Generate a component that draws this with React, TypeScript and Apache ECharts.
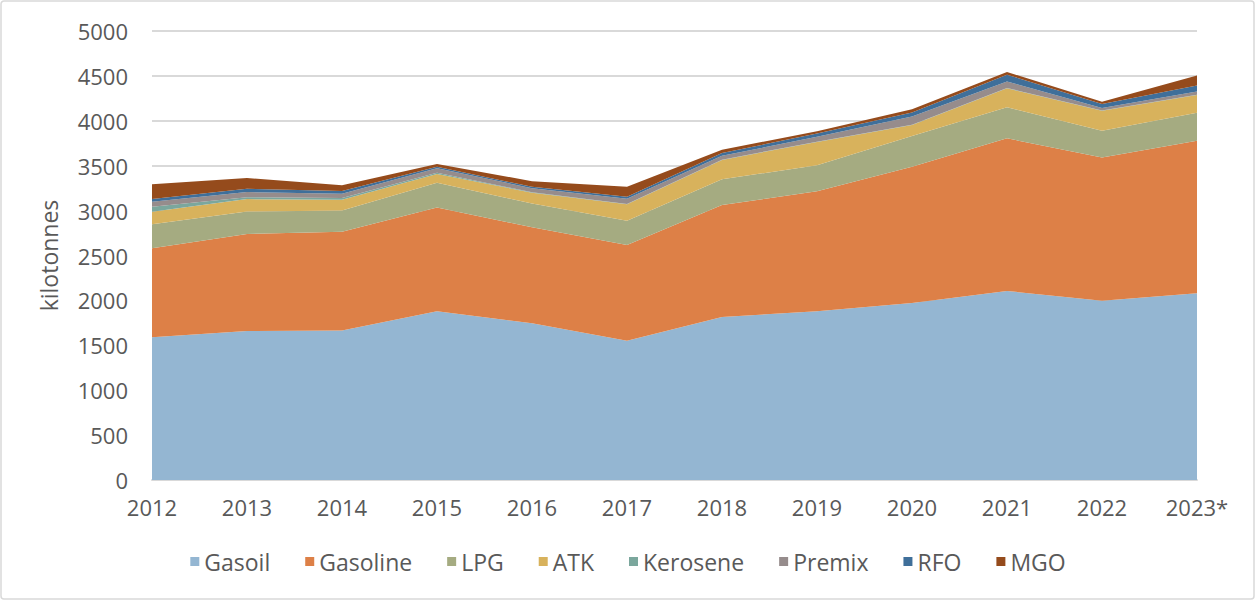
import React, { useEffect, useRef } from "react";
import * as echarts from "echarts";

const years = ["2012", "2013", "2014", "2015", "2016", "2017", "2018", "2019", "2020", "2021", "2022", "2023*"];
const gasoil = [1590, 1660, 1665, 1880, 1745, 1550, 1815, 1880, 1970, 2105, 1995, 2080];
const gasoline = [990, 1080, 1100, 1155, 1070, 1067, 1247, 1336, 1518, 1700, 1595, 1698];
const lpg = [267, 250, 235, 275, 265, 271, 286, 290, 342, 345, 300, 312];
const atk = [141, 138, 120, 97, 120, 182, 216, 259, 122, 212, 223, 197];
const kerosene = [56, 22, 19, 14, 5, 3, 3, 3, 3, 3, 3, 3];
const premix = [55, 56, 50, 50, 45, 60, 44, 53, 93, 74, 26, 37];
const rfo = [30, 37, 30, 18, 15, 22, 30, 38, 44, 74, 45, 67];
const mgo = [164, 119, 64, 30, 63, 111, 37, 25, 38, 30, 25, 111];

const seriesNames = ["Gasoil", "Gasoline", "LPG", "ATK", "Kerosene", "Premix", "RFO", "MGO"];
const seriesData = [gasoil, gasoline, lpg, atk, kerosene, premix, rfo, mgo];
const colors = ["#94b6d2", "#dd8047", "#a5ab81", "#d8b25c", "#7ba79d", "#968c8c", "#3f6f9a", "#954b1c"];

const FONT = "'Open Sans', 'DejaVu Sans', sans-serif";

export default function App() {
  const ref = useRef<HTMLDivElement>(null);
  useEffect(() => {
    if (!ref.current) return;
    const chart = echarts.init(ref.current, undefined, { renderer: "svg" });
    chart.setOption({
      animation: false,
      color: colors,
      textStyle: { fontFamily: FONT },
      grid: { left: 152, right: 59, top: 31, bottom: 122 },
      graphic: [
        {
          type: "rect",
          shape: { x: 1, y: 1, width: 1253, height: 598, r: 3 },
          style: { fill: "none", stroke: "#d9d9d9", lineWidth: 1.5 },
          silent: true,
        },
      ],
      legend: {
        bottom: 24,
        left: "center",
        icon: "rect",
        itemWidth: 9,
        itemHeight: 9,
        itemGap: 35,
        textStyle: { fontSize: 23, color: "#595959", fontFamily: FONT },
        data: seriesNames,
      },
      xAxis: {
        type: "category",
        data: years,
        boundaryGap: false,
        axisLine: { lineStyle: { color: "#d9d9d9", width: 2 } },
        axisTick: { show: false },
        axisLabel: { color: "#595959", fontSize: 22, margin: 16, fontFamily: FONT },
      },
      yAxis: {
        type: "value",
        min: 0,
        max: 5000,
        interval: 500,
        name: "kilotonnes",
        nameLocation: "middle",
        nameGap: 92,
        nameRotate: 90,
        nameTextStyle: { color: "#595959", fontSize: 23, fontFamily: FONT },
        axisLine: { show: false },
        axisTick: { show: false },
        axisLabel: {
          color: "#595959",
          fontSize: 22,
          margin: 24,
          fontFamily: FONT,
          formatter: (v: number) => String(v),
        },
        splitLine: { lineStyle: { color: "#d9d9d9", width: 2 } },
      },
      series: seriesNames.map((name, i) => ({
        name,
        type: "line",
        stack: "total",
        data: seriesData[i],
        symbol: "none",
        showSymbol: false,
        lineStyle: { width: 0 },
        areaStyle: { color: colors[i], opacity: 1 },
        itemStyle: { color: colors[i] },
        z: 2,
      })),
    });
    return () => chart.dispose();
  }, []);
  return (
    <div
      ref={ref}
      style={{ position: "absolute", left: 0, top: 0, width: 1256, height: 602, background: "#fff" }}
    />
  );
}
